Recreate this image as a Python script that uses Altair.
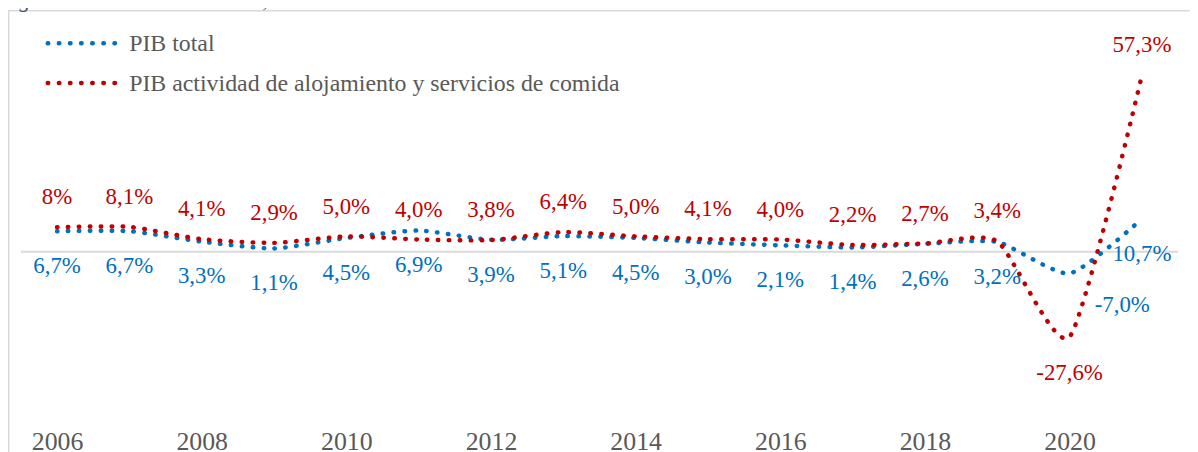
import altair as alt
import pandas as pd

# ---- data ----
years = list(range(2006, 2022))
series_names = ["PIB total", "PIB actividad de alojamiento y servicios de comida"]
pib_total = [6.7, 6.7, 3.3, 1.1, 4.5, 6.9, 3.9, 5.1, 4.5, 3.0, 2.1, 1.4, 2.6, 3.2, -7.0, 10.7]
pib_alojamiento = [8.0, 8.1, 4.1, 2.9, 5.0, 4.0, 3.8, 6.4, 5.0, 4.1, 4.0, 2.2, 2.7, 3.4, -27.6, 57.3]
labels_total = ["6,7%", "6,7%", "3,3%", "1,1%", "4,5%", "6,9%", "3,9%", "5,1%", "4,5%",
                "3,0%", "2,1%", "1,4%", "2,6%", "3,2%", "-7,0%", "10,7%"]
labels_alojamiento = ["8%", "8,1%", "4,1%", "2,9%", "5,0%", "4,0%", "3,8%", "6,4%", "5,0%",
                      "4,1%", "4,0%", "2,2%", "2,7%", "3,4%", "-27,6%", "57,3%"]
tick_years = [2006, 2008, 2010, 2012, 2014, 2016, 2018, 2020]
title_text = "Figura 4. Tasa de crecimiento, Producto Interno Bruto - PIB"

BLUE = "#0070C0"
RED = "#C00000"
GREY = "#595959"
FONT = "Liberation Serif"

df = pd.concat([
    pd.DataFrame({"year": years, "value": pib_total, "label": labels_total, "serie": series_names[0]}),
    pd.DataFrame({"year": years, "value": pib_alojamiento, "label": labels_alojamiento, "serie": series_names[1]}),
], ignore_index=True)

one = pd.DataFrame({"k": [0]})  # single-row source for decorations

W, H = 1165, 405
YDOM = [-55.8, 74.8]

x = alt.X("year:Q",
          scale=alt.Scale(domain=[2005.5, 2021.5], nice=False, zero=False),
          axis=alt.Axis(values=tick_years, format="d", title=None, grid=False, domain=False,
                        ticks=False, tickSize=0, labelFont=FONT, labelFontSize=26,
                        labelColor=GREY, labelBaseline="alphabetic", labelPadding=25.5,
                        labelFlush=False, labelOverlap=False))
y = alt.Y("value:Q", scale=alt.Scale(domain=YDOM, nice=False, zero=False), axis=None)

base = alt.Chart(df)

zero_line = alt.Chart(pd.DataFrame({"value": [0]})).mark_rule(color="#D9D9D9", strokeWidth=2).encode(y=y)

line_style = dict(strokeWidth=4.5, strokeDash=[0.5, 10.5], strokeCap="round",
                  interpolate="cardinal", tension=0.4)
blue_line = base.transform_filter(alt.datum.serie == series_names[0]).mark_line(color=BLUE, **line_style).encode(x=x, y=y)
red_line = base.transform_filter(alt.datum.serie == series_names[1]).mark_line(color=RED, **line_style).encode(x=x, y=y)

txt = dict(font=FONT, fontSize=23, baseline="alphabetic", align="center")
red_above = base.transform_filter(
    (alt.datum.serie == series_names[1]) & (alt.datum.year != 2020)
).mark_text(color=RED, dy=-23, **txt).encode(x=x, y=y, text="label:N")
red_below = base.transform_filter(
    (alt.datum.serie == series_names[1]) & (alt.datum.year == 2020)
).mark_text(color=RED, dy=43, **txt).encode(x=x, y=y, text="label:N")
blue_below = base.transform_filter(
    (alt.datum.serie == series_names[0]) & (alt.datum.year != 2020)
).mark_text(color=BLUE, dy=42, **txt).encode(x=x, y=y, text="label:N")
blue_right = base.transform_filter(
    (alt.datum.serie == series_names[0]) & (alt.datum.year == 2020)
).mark_text(color=BLUE, dy=39, dx=53, **txt).encode(x=x, y=y, text="label:N")

# ---- legend (drawn manually) ----
leg_style = dict(strokeWidth=4.5, strokeDash=[0.5, 10.7], strokeCap="round")
leg_blue = alt.Chart(one).mark_rule(color=BLUE, **leg_style).encode(
    x=alt.value(27), x2=alt.value(95), y=alt.value(22))
leg_red = alt.Chart(one).mark_rule(color=RED, **leg_style).encode(
    x=alt.value(27), x2=alt.value(95), y=alt.value(62))
leg_txt = dict(font=FONT, fontSize=24, color=GREY, align="left", baseline="alphabetic")
leg_blue_t = alt.Chart(one).mark_text(**leg_txt).encode(
    x=alt.value(109), y=alt.value(30), text=alt.value(series_names[0]))
leg_red_t = alt.Chart(one).mark_text(**leg_txt).encode(
    x=alt.value(109), y=alt.value(70), text=alt.value(series_names[1]))

# ---- frame and caption ----
frame_top = alt.Chart(one).mark_rule(color="#D9D9D9", strokeWidth=1.5).encode(
    x=alt.value(-13), x2=alt.value(W + 12), y=alt.value(-10.7))
frame_left = alt.Chart(one).mark_rule(color="#D9D9D9", strokeWidth=1.5).encode(
    x=alt.value(-12.25), y=alt.value(-10.7), y2=alt.value(H + 30))
caption = alt.Chart(one).mark_text(font=FONT, fontSize=22, fontStyle="italic", color="#44546A",
                                   align="left", baseline="alphabetic").encode(
    x=alt.value(-21), y=alt.value(-15), text=alt.value(title_text))

chart = alt.layer(
    frame_top, frame_left, caption, zero_line,
    blue_line, red_line,
    red_above, red_below, blue_below, blue_right,
    leg_blue, leg_red, leg_blue_t, leg_red_t,
).properties(
    width=W, height=H,
    autosize="none",
    padding={"left": 13, "top": 12, "right": 12, "bottom": 27},
).configure_view(stroke=None)

chart.save("out.html", embed_options={"renderer": "svg", "actions": False})
